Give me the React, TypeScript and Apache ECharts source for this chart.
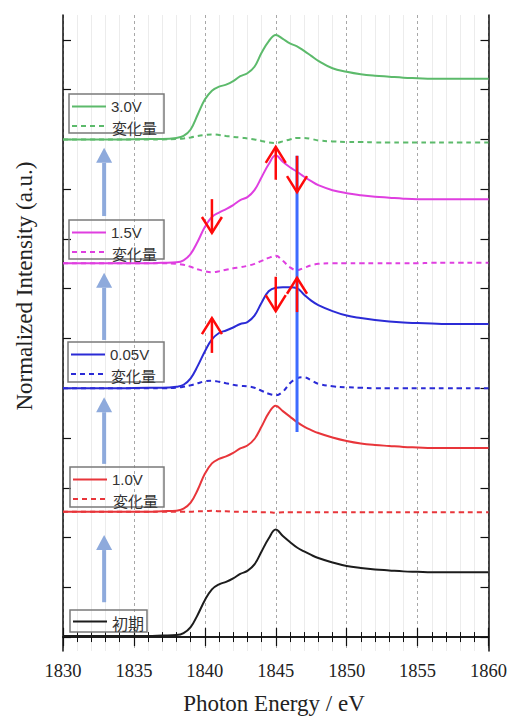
import React, { useEffect, useRef } from "react";
import * as echarts from "echarts";

// Photon energy (eV)
const energy = [1830,1832,1834,1836,1837,1838,1838.5,1839,1839.5,1840,1840.5,1841,1841.5,1842,1842.5,1843,1843.5,1844,1844.5,1845,1845.5,1846,1846.5,1847,1847.5,1848,1849,1850,1851,1852,1853,1854,1855,1856,1857,1858,1859,1860];

// Offset spectra (normalized intensity, stacked)
const initialSpec = [0.02,0.02,0.02,0.02,0.03,0.04,0.08,0.2,0.45,0.74,0.96,1.06,1.11,1.18,1.27,1.33,1.46,1.72,1.98,2.16,2.03,1.91,1.8,1.72,1.65,1.59,1.5,1.43,1.39,1.36,1.34,1.32,1.31,1.3,1.3,1.3,1.3,1.3];
const v10Spec = [2.52,2.52,2.52,2.52,2.53,2.54,2.58,2.7,2.96,3.28,3.49,3.58,3.63,3.7,3.79,3.85,3.98,4.23,4.5,4.65,4.54,4.43,4.32,4.23,4.16,4.1,4.01,3.94,3.89,3.86,3.84,3.82,3.81,3.8,3.8,3.8,3.8,3.8];
const v10Diff = [2.52,2.52,2.52,2.52,2.52,2.52,2.52,2.52,2.53,2.53,2.54,2.53,2.53,2.52,2.52,2.52,2.52,2.51,2.51,2.5,2.51,2.51,2.51,2.51,2.51,2.51,2.51,2.51,2.51,2.51,2.51,2.51,2.51,2.51,2.51,2.51,2.51,2.51];
const v005Spec = [5.0,5.0,5.0,5.01,5.01,5.03,5.07,5.2,5.45,5.74,5.98,6.11,6.16,6.22,6.29,6.33,6.46,6.72,6.95,7.02,7.03,7.03,7.01,6.88,6.76,6.67,6.55,6.46,6.41,6.37,6.34,6.32,6.31,6.3,6.29,6.29,6.29,6.29];
const v005Diff = [5.0,5.0,5.0,5.0,5.0,5.01,5.03,5.06,5.1,5.14,5.15,5.13,5.1,5.07,5.05,5.04,5.01,4.95,4.89,4.86,4.93,5.1,5.2,5.22,5.16,5.09,5.04,5.02,5.01,5.0,5.0,5.0,5.0,5.0,5.0,5.0,5.0,5.0];
const v15Spec = [7.51,7.51,7.51,7.51,7.52,7.53,7.57,7.7,7.95,8.24,8.44,8.53,8.6,8.68,8.78,8.84,8.98,9.24,9.5,9.68,9.55,9.44,9.35,9.25,9.16,9.08,8.98,8.92,8.88,8.85,8.83,8.81,8.8,8.8,8.8,8.8,8.8,8.8];
const v15Diff = [7.51,7.51,7.51,7.51,7.51,7.5,7.48,7.44,7.39,7.35,7.33,7.35,7.38,7.41,7.43,7.46,7.5,7.56,7.62,7.66,7.56,7.43,7.37,7.42,7.47,7.5,7.51,7.51,7.51,7.51,7.51,7.51,7.51,7.52,7.52,7.52,7.52,7.52];
const v30Spec = [10.0,10.0,10.0,10.01,10.01,10.03,10.07,10.2,10.5,10.8,10.98,11.06,11.1,11.17,11.27,11.33,11.46,11.74,11.97,12.1,12.02,11.93,11.87,11.78,11.68,11.58,11.43,11.36,11.31,11.28,11.26,11.24,11.23,11.22,11.22,11.22,11.22,11.22];
const v30Diff = [10.0,10.0,10.0,10.0,10.0,10.01,10.02,10.04,10.07,10.09,10.1,10.09,10.07,10.05,10.04,10.02,10.0,9.97,9.94,9.93,9.96,10.0,10.03,10.03,10.01,9.98,9.96,9.95,9.95,9.94,9.94,9.94,9.94,9.94,9.94,9.94,9.94,9.94];

// Labels
const stateLabels = ["3.0V", "1.5V", "0.05V", "1.0V", "初期"];
const diffLabel = "変化量";
const xTitle = "Photon Energy / eV";
const yTitle = "Normalized Intensity (a.u.)";
const yTicks = [0,1,2,3,4,5,6,7,8,9,10,11,12];

// Annotations: [energy, tail, tip]
const redArrows = [
  [1840.5, 8.80, 8.12],
  [1845, 9.19, 9.85],
  [1846.5, 9.67, 8.94],
  [1840.5, 5.71, 6.41],
  [1845, 7.24, 6.55],
  [1846.5, 6.53, 7.22],
];
const stepArrows = [
  [1832.9, 0.70, 2.05],
  [1832.9, 3.48, 4.82],
  [1832.9, 5.97, 7.32],
  [1832.9, 8.46, 9.83],
];
const markerLine = [[1846.5, 4.12], [1846.5, 9.67]];

const COLORS = {
  black: "#1c1c1c",
  red: "#e8353a",
  blue: "#2b2bd6",
  magenta: "#df3fe0",
  green: "#5cba6b",
};

const pair = (ys: number[]) => energy.map((x, i) => [x, ys[i]]);

export default function App() {
  const ref = useRef<HTMLDivElement>(null);
  useEffect(() => {
    if (!ref.current) return;
    const chart = echarts.init(ref.current, undefined, { renderer: "svg" });

    const lineSeries = (name: string, ys: number[], color: string, dashed: boolean) => ({
      name,
      type: "line",
      data: pair(ys),
      smooth: 0.4,
      showSymbol: false,
      symbol: "none",
      xAxisIndex: 0,
      yAxisIndex: 0,
      lineStyle: { color, width: 2, type: dashed ? [5, 4] : "solid" },
      z: 3,
    });

    const legendLayout = [
      { left: 69, top: 94, w: 95, h: 39, color: COLORS.green },
      { left: 69, top: 220, w: 95, h: 39, color: COLORS.magenta },
      { left: 68, top: 342, w: 96, h: 40, color: COLORS.blue },
      { left: 70, top: 467, w: 94, h: 40, color: COLORS.red },
      { left: 70, top: 610, w: 77, h: 22, color: COLORS.black },
    ];
    const graphics: any[] = [];
    legendLayout.forEach((b, i) => {
      graphics.push({
        type: "rect",
        shape: { x: b.left, y: b.top, width: b.w, height: b.h },
        style: { fill: "none", stroke: "#7a7a7a", lineWidth: 1.5 },
        z: 10,
      });
      const single = i === 4;
      const ly = b.top + (single ? 11.5 : 12.5);
      graphics.push({
        type: "line",
        shape: { x1: b.left + 3, y1: ly, x2: b.left + 37, y2: ly },
        style: { stroke: b.color, lineWidth: 2 },
        z: 10,
      });
      graphics.push({
        type: "text",
        x: b.left + 42,
        y: single ? ly + 1 : b.top + 12,
        style: {
          text: stateLabels[i],
          fill: "#333",
          font: single ? '16px "Noto Sans CJK JP"' : '15px "Liberation Sans"',
          lineHeight: 15,
          verticalAlign: "middle",
          align: "left",
        },
        z: 10,
      });
      if (!single) {
        const dy = b.top + 32;
        graphics.push({
          type: "line",
          shape: { x1: b.left + 3, y1: dy, x2: b.left + 37, y2: dy },
          style: { stroke: b.color, lineWidth: 2, lineDash: [5, 4] },
          z: 10,
        });
        graphics.push({
          type: "text",
          x: b.left + 43,
          y: b.top + 33,
          style: {
            text: diffLabel,
            fill: "#333",
            font: '15px "Noto Sans CJK JP"',
            lineHeight: 15,
            verticalAlign: "middle",
            align: "left",
          },
          z: 10,
        });
      }
    });
    graphics.push({
      type: "text",
      x: 24,
      y: 286,
      rotation: Math.PI / 2,
      style: {
        text: yTitle,
        fill: "#222",
        font: '23px "Liberation Serif"',
        align: "center",
        verticalAlign: "middle",
      },
    });
    graphics.push({
      type: "text",
      x: 274,
      y: 703,
      style: {
        text: xTitle,
        fill: "#222",
        font: '23px "Liberation Serif"',
        lineHeight: 23,
        align: "center",
        verticalAlign: "middle",
      },
    });

    const axisLine = { show: true, lineStyle: { color: "#111", width: 1.5 } };

    chart.setOption({
      animation: false,
      backgroundColor: "#fff",
      grid: { left: 63, top: 15, right: 21, bottom: 65, containLabel: false },
      xAxis: [
        {
          type: "value",
          min: 1830,
          max: 1860,
          interval: 5,
          position: "bottom",
          axisLine,
          axisTick: { show: true, inside: true, length: 9, lineStyle: { color: "#111", width: 1.2 } },
          minorTick: { show: true, splitNumber: 5, length: 5, lineStyle: { color: "#111", width: 1 } },
          axisLabel: {
            show: true,
            margin: 10,
            color: "#222",
            fontFamily: "Liberation Serif",
            fontSize: 18.5,
            formatter: (v: number) => String(v),
          },
          splitLine: { show: true, lineStyle: { color: "#a8a8a8", width: 1, type: [3, 3] } },
          minorSplitLine: { show: true, lineStyle: { color: "#ececec", width: 1 } },
        },
        {
          type: "value",
          min: 1830,
          max: 1860,
          interval: 5,
          position: "top",
          axisLine,
          axisTick: { show: true, inside: true, length: 9, lineStyle: { color: "#111", width: 1.2 } },
          minorTick: { show: true, splitNumber: 5, length: 5, lineStyle: { color: "#111", width: 1 } },
          axisLabel: { show: false },
          splitLine: { show: false },
        },
      ],
      yAxis: [
        {
          type: "value",
          min: -0.28,
          max: 12.5,
          position: "left",
          axisLine,
          axisTick: { show: true, inside: true, length: 8, customValues: yTicks, lineStyle: { color: "#111", width: 1.2 } },
          axisLabel: { show: false, customValues: yTicks },
          splitLine: { show: false },
        },
        {
          type: "value",
          min: -0.28,
          max: 12.5,
          position: "right",
          axisLine,
          axisTick: { show: true, inside: true, length: 8, customValues: yTicks, lineStyle: { color: "#111", width: 1.2 } },
          axisLabel: { show: false, customValues: yTicks },
          splitLine: { show: false },
        },
      ],
      graphic: graphics,
      series: [
        lineSeries("初期", initialSpec, COLORS.black, false),
        lineSeries("1.0V", v10Spec, COLORS.red, false),
        lineSeries("1.0V 変化量", v10Diff, COLORS.red, true),
        lineSeries("0.05V", v005Spec, COLORS.blue, false),
        lineSeries("0.05V 変化量", v005Diff, COLORS.blue, true),
        lineSeries("1.5V", v15Spec, COLORS.magenta, false),
        lineSeries("1.5V 変化量", v15Diff, COLORS.magenta, true),
        lineSeries("3.0V", v30Spec, COLORS.green, false),
        lineSeries("3.0V 変化量", v30Diff, COLORS.green, true),
        {
          name: "marker",
          type: "line",
          data: markerLine,
          showSymbol: false,
          symbol: "none",
          lineStyle: { color: "#3d6bff", width: 3 },
          z: 5,
        },
        {
          name: "steps",
          type: "custom",
          coordinateSystem: "cartesian2d",
          encode: { x: 0, y: [1, 2] },
          data: stepArrows,
          z: 6,
          renderItem: (_p: any, api: any) => {
            const x = api.value(0);
            const a = api.coord([x, api.value(1)]);
            const b = api.coord([x, api.value(2)]);
            const headH = 15;
            const headW = 8;
            const baseY = b[1] + headH;
            return {
              type: "group",
              children: [
                {
                  type: "line",
                  shape: { x1: a[0], y1: a[1], x2: b[0], y2: baseY },
                  style: { stroke: "#8eaadc", lineWidth: 4 },
                },
                {
                  type: "polygon",
                  shape: { points: [[b[0] - headW, baseY], [b[0], b[1]], [b[0] + headW, baseY]] },
                  style: { fill: "#8eaadc" },
                },
              ],
            };
          },
        },
        {
          name: "changes",
          type: "custom",
          coordinateSystem: "cartesian2d",
          encode: { x: 0, y: [1, 2] },
          data: redArrows,
          z: 7,
          renderItem: (_p: any, api: any) => {
            const x = api.value(0);
            const a = api.coord([x, api.value(1)]);
            const b = api.coord([x, api.value(2)]);
            const dir = b[1] > a[1] ? 1 : -1;
            return {
              type: "group",
              children: [
                {
                  type: "line",
                  shape: { x1: a[0], y1: a[1], x2: b[0], y2: b[1] },
                  style: { stroke: "#ff0a0a", lineWidth: 2.5 },
                },
                {
                  type: "polyline",
                  shape: { points: [[b[0] - 10, b[1] - dir * 16], [b[0], b[1]], [b[0] + 10, b[1] - dir * 16]] },
                  style: { stroke: "#ff0a0a", lineWidth: 2.5, fill: "none" },
                },
              ],
            };
          },
        },
      ],
    });
    return () => chart.dispose();
  }, []);

  return (
    <div
      ref={ref}
      style={{ position: "fixed", left: 0, top: 0, width: 510, height: 716, background: "#fff" }}
    />
  );
}
